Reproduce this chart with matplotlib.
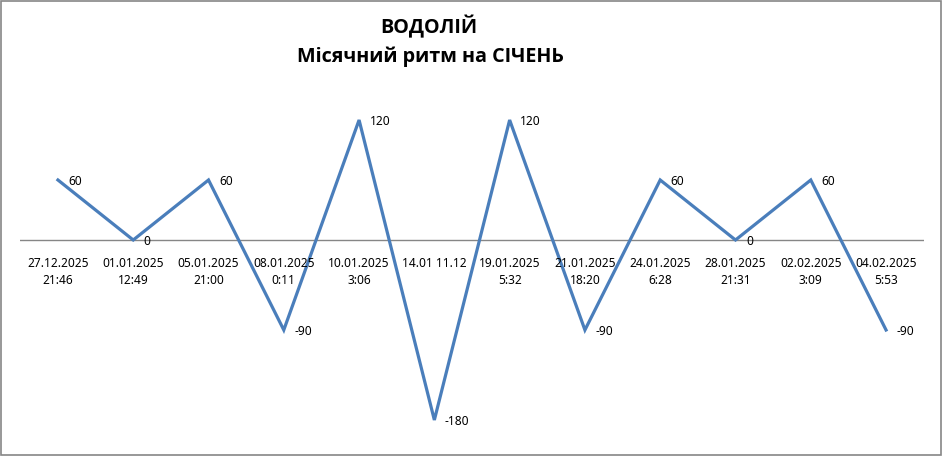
import matplotlib
matplotlib.use("Agg")
import matplotlib.pyplot as plt
from matplotlib.patches import Rectangle

categories = ["27.12.2025\n21:46", "01.01.2025\n12:49", "05.01.2025\n21:00",
              "08.01.2025\n0:11", "10.01.2025\n3:06", "14.01 11.12",
              "19.01.2025\n5:32", "21.01.2025\n18:20", "24.01.2025\n6:28",
              "28.01.2025\n21:31", "02.02.2025\n3:09", "04.02.2025\n5:53"]
values = [60, 0, 60, -90, 120, -180, 120, -90, 60, 0, 60, -90]
title_lines = ["ВОДОЛІЙ", "Місячний ритм на СІЧЕНЬ"]

W, H = 944, 457
fig = plt.figure(figsize=(W / 100, H / 100), dpi=100)
font = ["Noto Sans", "DejaVu Sans"]
tfont = ["Open Sans", "DejaVu Sans"]

# plot area in pixel coordinates
left_px, right_px = 20.3, 923.7
top_px, bottom_px = 90, 440
ax = fig.add_axes([left_px / W, (H - bottom_px) / H,
                   (right_px - left_px) / W, (bottom_px - top_px) / H])
ax.set_xlim(-0.5, len(values) - 0.5)
ax.set_ylim(-200, 150)
ax.axis("off")

x = list(range(len(values)))
ax.axhline(0, color="#868686", lw=1.0, zorder=1)
ax.plot(x, values, color="#4A7EBB", lw=2.3, solid_joinstyle="miter", zorder=3)

for xi, v in zip(x, values):
    ax.annotate(str(v), (xi, v), xytext=(7.5, -1), textcoords="offset points",
                ha="left", va="center", fontsize=8.6, family=font, color="black")

for xi, lab in zip(x, categories):
    ax.annotate(lab, (xi, 0), xytext=(0, -12.5), textcoords="offset points",
                ha="center", va="top", fontsize=8.6, family=font,
                linespacing=1.32, color="black")

fig.text(429 / W, 1 - 27 / H, title_lines[0], ha="center", va="center",
         fontsize=14.2, fontweight="bold", family=tfont)
fig.text(430 / W, 1 - 57 / H, title_lines[1], ha="center", va="center",
         fontsize=14.2, fontweight="bold", family=tfont)

fig.patches.append(Rectangle((0.5 / W, 2.5 / H), (W - 3.5) / W, (H - 3.5) / H,
                             transform=fig.transFigure, fill=False,
                             edgecolor="#868686", lw=1.2))

fig.savefig("out.png", dpi=100, facecolor="white")
